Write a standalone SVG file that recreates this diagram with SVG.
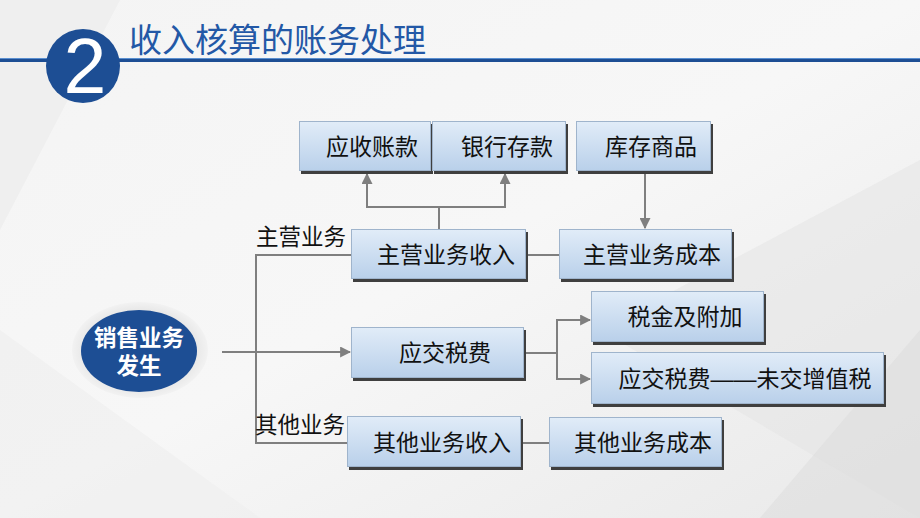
<svg xmlns="http://www.w3.org/2000/svg" width="920" height="518" viewBox="0 0 920 518">
<defs>
<linearGradient id="bg" x1="0" y1="0" x2="1" y2="1">
<stop offset="0" stop-color="#f4f4f4"/><stop offset="0.5" stop-color="#f7f7f7"/><stop offset="1" stop-color="#e9e9e9"/>
</linearGradient>
<linearGradient id="box" x1="0" y1="0" x2="0" y2="1">
<stop offset="0" stop-color="#e1ecf8"/><stop offset="1" stop-color="#b9d0ea"/>
</linearGradient>
<radialGradient id="halo" cx="0.5" cy="0.5" r="0.5">
<stop offset="0.8" stop-color="#e6e6e6"/><stop offset="1" stop-color="#f2f2f2"/>
</radialGradient>
<marker id="arr" viewBox="0 0 10 10" refX="9" refY="5" markerWidth="5.5" markerHeight="5.5" orient="auto" markerUnits="strokeWidth">
<path d="M0,0 L10,5 L0,10 z" fill="#7f7f7f"/>
</marker>
<style>
.sh{fill:#3f3f3f}
.bx{fill:url(#box);stroke:#9fb4cc;stroke-width:1}
.t{font-family:'Liberation Sans','Noto Sans CJK SC',sans-serif;font-size:23px;fill:#111111;text-anchor:middle}
.lbl{font-family:'Liberation Sans','Noto Sans CJK SC',sans-serif;font-size:22.5px;fill:#111111}
.c{fill:none;stroke:#7f7f7f;stroke-width:2}
</style>
</defs>
<rect width="920" height="518" fill="url(#bg)"/>
<polygon points="0,0 120,0 0,230" fill="#ebebeb" opacity="0.6"/>
<polygon points="920,160 600,330 920,518" fill="#e3e3e3" opacity="0.5"/>
<polygon points="760,518 920,330 920,518" fill="#dcdcdc" opacity="0.5"/>
<polygon points="0,330 260,518 0,518" fill="#efefef" opacity="0.6"/>

<g id="header">
<rect x="0" y="58" width="920" height="4" fill="#1d4e94"/>
<rect x="0" y="58" width="920" height="1" fill="#5a8fd0"/>
<circle cx="83" cy="66" r="37" fill="#1d4e94"/>
<text x="85" y="93" font-family="'Liberation Sans',sans-serif" font-size="77" fill="#ffffff" text-anchor="middle">2</text>
<text x="129" y="52" font-family="'Liberation Sans','Noto Sans CJK SC',sans-serif" font-size="33" fill="#2358a6">收入核算的账务处理</text>
</g>

<g id="connectors">
<line class="c" x1="222" y1="352" x2="350" y2="352" marker-end="url(#arr)"/>
<polyline class="c" points="352,255 256,255 256,443 348,443"/>
<line class="c" x1="439" y1="230" x2="439" y2="207"/>
<polyline class="c" points="367,207 505,207"/>
<line class="c" x1="367" y1="208" x2="367" y2="174" marker-end="url(#arr)"/>
<line class="c" x1="505" y1="208" x2="505" y2="174" marker-end="url(#arr)"/>
<line class="c" x1="645" y1="172" x2="645" y2="228" marker-end="url(#arr)"/>
<line class="c" x1="527" y1="255" x2="560" y2="255"/>
<line class="c" x1="525" y1="353" x2="557" y2="353"/>
<polyline class="c" points="557,320 557,379"/>
<line class="c" x1="556" y1="320" x2="590" y2="320" marker-end="url(#arr)"/>
<line class="c" x1="556" y1="379" x2="590" y2="379" marker-end="url(#arr)"/>
<line class="c" x1="522" y1="443" x2="550" y2="443"/>
</g>

<g id="labels">
<text class="lbl" x="256" y="245">主营业务</text>
<text class="lbl" x="255" y="433">其他业务</text>
</g>

<g id="n-sales">
<ellipse cx="140" cy="350" rx="68" ry="48" fill="url(#halo)"/>
<ellipse cx="139" cy="351" rx="58" ry="41" fill="#1d4e94"/>
<text x="139" y="346" font-family="'Liberation Sans','Noto Sans CJK SC',sans-serif" font-size="22.5" font-weight="bold" fill="#ffffff" text-anchor="middle">销售业务</text>
<text x="139" y="374" font-family="'Liberation Sans','Noto Sans CJK SC',sans-serif" font-size="22.5" font-weight="bold" fill="#ffffff" text-anchor="middle">发生</text>
</g>

<g id="n-ar">
<rect class="sh" x="301" y="124" width="132" height="50"/>
<rect class="bx" x="299.5" y="121.5" width="131" height="49"/>
<text class="t" x="372" y="155">应收账款</text>
</g>
<g id="n-bank">
<rect class="sh" x="434" y="124" width="134" height="50"/>
<rect class="bx" x="432.5" y="121.5" width="133" height="49"/>
<text class="t" x="507" y="155">银行存款</text>
</g>
<g id="n-stock">
<rect class="sh" x="578" y="124" width="135" height="50"/>
<rect class="bx" x="576.5" y="121.5" width="134" height="49"/>
<text class="t" x="651" y="155">库存商品</text>
</g>
<g id="n-main-rev">
<rect class="sh" x="353" y="232" width="175" height="50"/>
<rect class="bx" x="351.5" y="229.5" width="174" height="49"/>
<text class="t" x="446" y="263">主营业务收入</text>
</g>
<g id="n-main-cost">
<rect class="sh" x="561" y="232" width="173" height="50"/>
<rect class="bx" x="559.5" y="229.5" width="172" height="49"/>
<text class="t" x="652" y="263">主营业务成本</text>
</g>
<g id="n-tax">
<rect class="sh" x="353" y="330" width="173" height="51"/>
<rect class="bx" x="351.5" y="327.5" width="172" height="50"/>
<text class="t" x="445" y="361">应交税费</text>
</g>
<g id="n-tax-add">
<rect class="sh" x="593" y="294" width="173" height="51"/>
<rect class="bx" x="591.5" y="291.5" width="172" height="50"/>
<text class="t" x="685" y="325">税金及附加</text>
</g>
<g id="n-vat">
<rect class="sh" x="593" y="355" width="293" height="52"/>
<rect class="bx" x="591.5" y="352.5" width="292" height="51"/>
<text class="t" x="745" y="387">应交税费——未交增值税</text>
</g>
<g id="n-other-rev">
<rect class="sh" x="349" y="419" width="174" height="51"/>
<rect class="bx" x="347.5" y="416.5" width="173" height="50"/>
<text class="t" x="442" y="451">其他业务收入</text>
</g>
<g id="n-other-cost">
<rect class="sh" x="551" y="420" width="173" height="50"/>
<rect class="bx" x="549.5" y="417.5" width="172" height="49"/>
<text class="t" x="643" y="451">其他业务成本</text>
</g>
</svg>
